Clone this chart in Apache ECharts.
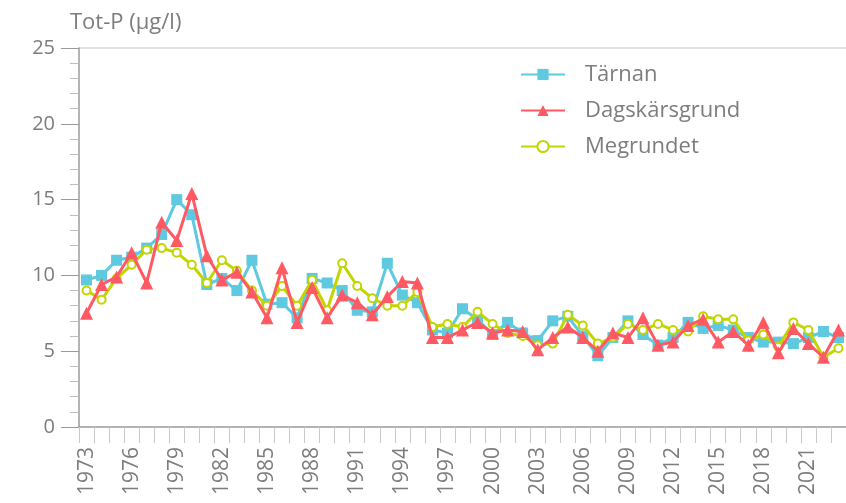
<!DOCTYPE html>
<html>
<head>
<meta charset="utf-8">
<script src="https://cdn.jsdelivr.net/npm/echarts@6/dist/echarts.min.js"></script>
<style>
html,body{margin:0;padding:0;background:#fff;}
#chart{width:846px;height:503px;}
</style>
</head>
<body>
<div id="chart"></div>
<script>
const years = [];
for (let y = 1973; y <= 2023; y++) years.push(String(y));

const tarnan = [
  9.7,10.0,11.0,11.2,11.8,12.7,15.0,14.0,9.4,9.8,9.0,11.0,
  8.1,8.2,7.2,9.8,9.5,9.0,7.7,7.6,10.8,8.7,8.2,6.4,6.2,
  7.8,7.1,6.1,6.9,6.2,5.7,7.0,7.3,6.0,4.7,5.9,7.0,
  6.1,5.4,5.9,6.9,6.5,6.7,6.4,5.9,5.6,5.6,5.5,5.9,6.3,5.9
];
const dagskarsgrund = [
  7.5,9.4,9.9,11.5,9.5,13.5,12.3,15.4,11.3,9.7,10.2,8.9,
  7.2,10.5,6.9,9.2,7.2,8.7,8.2,7.4,8.6,9.6,9.5,5.9,5.9,
  6.4,6.9,6.2,6.4,6.3,5.1,5.9,6.6,5.9,5.0,6.2,5.9,
  7.2,5.4,5.6,6.7,7.1,5.6,6.3,5.4,6.9,4.9,6.5,5.5,4.6,6.4
];
const megrundet = [
  9.0,8.4,9.8,10.7,11.7,11.8,11.5,10.7,9.5,11.0,10.3,9.0,
  8.0,9.3,8.0,9.7,7.7,10.8,9.3,8.5,8.0,8.0,8.9,6.6,6.8,
  6.6,7.6,6.8,6.2,6.0,5.4,5.5,7.4,6.7,5.5,5.9,6.8,
  6.4,6.8,6.4,6.3,7.3,7.1,7.1,5.7,6.1,5.3,6.9,6.4,4.6,5.2
];
const seriesNames = ['Tärnan', 'Dagskärsgrund', 'Megrundet'];

const FONT = '"Open Sans", Lato, sans-serif';
const TXT = '#7d7d7d';
const C_CYAN = '#5EC9DF';
const C_RED = '#FF5A64';
const C_YEL = '#C2D500';

const chart = echarts.init(document.getElementById('chart'), null, {renderer: 'canvas'});
chart.setOption({
  animation: false,
  backgroundColor: '#fff',
  textStyle: {fontFamily: FONT},
  title: {
    text: 'Tot-P (µg/l)',
    left: 65, top: 7,
    textStyle: {fontFamily: FONT, fontSize: 22, fontWeight: 'normal', color: TXT}
  },
  legend: {
    data: seriesNames,
    orient: 'vertical',
    left: 515, top: 56,
    itemWidth: 44, itemHeight: 14,
    itemGap: 9,
    textStyle: {fontFamily: FONT, fontSize: 22, color: TXT, padding: [0, 0, 0, 15], lineHeight: 27}
  },
  grid: {left: 79, top: 48, width: 775, height: 379, containLabel: false},
  xAxis: [{
    type: 'category',
    data: years,
    boundaryGap: true,
    axisLine: {lineStyle: {color: '#9a9a9a', width: 1.5}},
    axisTick: {show: true, interval: 0, length: 16, lineStyle: {color: '#c8c8c8'}},
    axisLabel: {interval: 2, rotate: 90, margin: 20, fontSize: 21, color: TXT, fontFamily: FONT},
    splitLine: {show: false}
  }],
  yAxis: {
    type: 'value',
    min: 0, max: 25, interval: 5,
    axisLine: {show: true, lineStyle: {color: '#9a9a9a', width: 1.5}},
    axisTick: {show: true, length: 18, lineStyle: {color: '#9a9a9a'}},
    minorTick: {show: true, splitNumber: 5, length: 9, lineStyle: {color: '#bdbdbd'}},
    axisLabel: {fontSize: 20, color: TXT, margin: 24, fontFamily: FONT},
    splitLine: {show: true, lineStyle: {color: ['rgba(0,0,0,0)','rgba(0,0,0,0)','rgba(0,0,0,0)','rgba(0,0,0,0)','rgba(0,0,0,0)','#e2e2e2'], width: 2}}
  },
  series: [
    {
      name: 'Tärnan', type: 'line', data: tarnan,
      symbol: 'rect', symbolSize: 11, showAllSymbol: true,
      lineStyle: {color: C_CYAN, width: 3},
      itemStyle: {color: C_CYAN},
      z: 2
    },
    {
      name: 'Megrundet', type: 'line', data: megrundet,
      symbol: 'circle', symbolSize: 8, showAllSymbol: true,
      lineStyle: {color: C_YEL, width: 3},
      itemStyle: {color: '#fff', borderColor: C_YEL, borderWidth: 2},
      z: 3
    },
    {
      name: 'Dagskärsgrund', type: 'line', data: dagskarsgrund,
      symbol: 'triangle', symbolSize: 13, showAllSymbol: true,
      lineStyle: {color: C_RED, width: 3},
      itemStyle: {color: C_RED},
      z: 4
    }
  ]
});
</script>
</body>
</html>
